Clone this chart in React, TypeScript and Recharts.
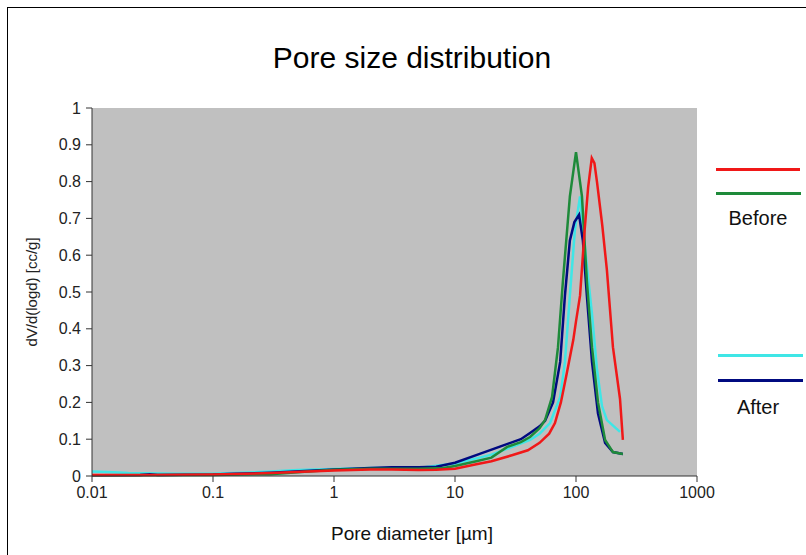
import React from 'react';
import { LineChart, Line, XAxis, YAxis, ReferenceArea, Legend } from 'recharts';

// Pore diameters [um] and dV/d(logd) [cc/g]
const redX = [0.01, 0.03, 0.1, 0.3, 1, 2, 3, 5, 7, 10, 15, 20, 30, 40, 50, 60, 67, 75, 84, 95, 100, 108, 118, 126, 135, 142, 149, 165, 180, 202, 231, 244];
const redY = [0.003, 0.003, 0.004, 0.008, 0.015, 0.018, 0.018, 0.016, 0.017, 0.02, 0.032, 0.04, 0.057, 0.07, 0.09, 0.115, 0.144, 0.2, 0.28, 0.37, 0.42, 0.49, 0.67, 0.785, 0.864, 0.85, 0.8, 0.68, 0.56, 0.35, 0.21, 0.098];

const greenX = [0.01, 0.1, 0.3, 0.5, 1, 2, 3, 5, 8, 10, 15, 20, 27, 35, 41.7, 50, 55.5, 63.4, 71, 78, 89, 100, 112, 123, 135.6, 152, 174, 202, 244];
const greenY = [0.002, 0.003, 0.005, 0.01, 0.017, 0.02, 0.02, 0.02, 0.022, 0.027, 0.04, 0.05, 0.079, 0.092, 0.106, 0.13, 0.152, 0.215, 0.35, 0.53, 0.76, 0.88, 0.76, 0.53, 0.35, 0.2, 0.098, 0.065, 0.06];

const cyanX = [0.01, 0.015, 0.02, 0.05, 0.1, 0.3, 0.5, 1, 2, 3, 5, 7, 10, 16, 20, 30, 41.7, 50, 61, 74, 81, 89, 98, 108, 118.6, 135.6, 149, 164, 180, 231];
const cyanY = [0.012, 0.01, 0.008, 0.006, 0.006, 0.012, 0.016, 0.019, 0.022, 0.022, 0.022, 0.028, 0.034, 0.05, 0.058, 0.08, 0.098, 0.115, 0.144, 0.215, 0.31, 0.49, 0.67, 0.76, 0.62, 0.44, 0.29, 0.19, 0.152, 0.12];

const navyX = [0.01, 0.025, 0.03, 0.035, 0.1, 0.15, 0.3, 1, 2, 3, 5, 7, 10, 16, 23.5, 35, 41.7, 50, 55.5, 64.6, 74, 81, 89, 97, 106, 114, 123, 135.6, 152, 174, 202, 244];
const navyY = [0.002, 0.003, 0.005, 0.003, 0.004, 0.006, 0.009, 0.018, 0.022, 0.024, 0.024, 0.025, 0.036, 0.06, 0.08, 0.1, 0.117, 0.135, 0.15, 0.2, 0.31, 0.49, 0.64, 0.69, 0.71, 0.64, 0.49, 0.31, 0.17, 0.09, 0.065, 0.06];

const xTicks = [0.01, 0.1, 1, 10, 100, 1000];
const yTicks = [0, 0.1, 0.2, 0.3, 0.4, 0.5, 0.6, 0.7, 0.8, 0.9, 1];

const toPoints = (xs: number[], ys: number[]) => xs.map((x, i) => ({ x, y: ys[i] }));

const font = '"Liberation Sans", Arial, sans-serif';

function GroupLegend({ payload }: any) {
  const color = (key: string) => payload?.find((p: any) => p.value === key)?.color;
  const seg = (c: string, top: number, left: number, width: number) => (
    <div style={{ position: 'absolute', top, left, width, height: 3, background: c }} />
  );
  const label = (text: string, top: number) => (
    <div style={{ position: 'absolute', top, left: 0, width: 106, textAlign: 'center', fontSize: 20, fontFamily: font, color: '#111' }}>{text}</div>
  );
  return (
    <div style={{ position: 'relative', width: 106, height: 280 }}>
      {seg(color('Before 1'), 18, 11, 84)}
      {seg(color('Before 2'), 42, 11, 85)}
      {label('Before', 57)}
      {seg(color('After 1'), 204, 13, 85)}
      {seg(color('After 2'), 229, 13, 85)}
      {label('After', 246)}
    </div>
  );
}

function YLabel({ viewBox }: any) {
  const cx = viewBox.x - 1;
  const cy = viewBox.y + viewBox.height / 2;
  return (
    <text x={cx} y={cy} transform={`rotate(-90 ${cx} ${cy})`} textAnchor="middle" dominantBaseline="central" fontSize={15} fontFamily={font} fill="#222">
      dV/d(logd) [cc/g]
    </text>
  );
}

export default function App() {
  return (
    <div style={{ position: 'absolute', left: 0, top: 0, width: 806, height: 555, background: '#fff', overflow: 'hidden' }}>
      <div style={{ position: 'absolute', left: 7, top: 7, width: 820, height: 580, border: '1px solid #000' }} />
      <div style={{ position: 'absolute', left: 0, top: 41, width: 824, textAlign: 'center', fontSize: 30, fontFamily: font, color: '#000' }}>
        Pore size distribution
      </div>
      <div style={{ position: 'absolute', left: 0, top: 523, width: 824, textAlign: 'center', fontSize: 19, fontFamily: font, color: '#111' }}>
        Pore diameter [µm]
      </div>
      <LineChart width={806} height={555} margin={{ top: 108, right: 109, left: 32, bottom: 49 }} style={{ position: 'absolute', left: 0, top: 0 }}>
        <ReferenceArea x1={0.01} x2={1000} y1={0} y2={1} fill="#C0C0C0" fillOpacity={1} stroke="none" ifOverflow="hidden" />
        <XAxis
          dataKey="x"
          type="number"
          scale="log"
          domain={[0.01, 1000]}
          ticks={xTicks}
          tickFormatter={(v) => String(v)}
          allowDataOverflow
          height={30}
          stroke="#333"
          tickSize={6}
          tickMargin={5}
          tick={{ fill: '#222', fontSize: 16, fontFamily: font }}
        />
        <YAxis
          type="number"
          domain={[0, 1]}
          ticks={yTicks}
          tickFormatter={(v) => String(v)}
          width={60}
          stroke="#333"
          tickSize={6}
          tickMargin={5}
          tick={{ fill: '#222', fontSize: 16, fontFamily: font }}
          label={<YLabel />}
        />
        <Legend
          layout="horizontal"
          verticalAlign="middle"
          align="center"
          wrapperStyle={{ position: 'absolute', left: 705, top: 150, width: 106, height: 280 }}
          content={<GroupLegend />}
        />
        <Line data={toPoints(cyanX, cyanY)} dataKey="y" name="After 1" stroke="#3FE6E6" strokeWidth={2.5} dot={false} isAnimationActive={false} />
        <Line data={toPoints(navyX, navyY)} dataKey="y" name="After 2" stroke="#000A80" strokeWidth={2.5} dot={false} isAnimationActive={false} />
        <Line data={toPoints(greenX, greenY)} dataKey="y" name="Before 2" stroke="#1E8A3A" strokeWidth={2.5} dot={false} isAnimationActive={false} />
        <Line data={toPoints(redX, redY)} dataKey="y" name="Before 1" stroke="#F01818" strokeWidth={2.5} dot={false} isAnimationActive={false} />
      </LineChart>
    </div>
  );
}
